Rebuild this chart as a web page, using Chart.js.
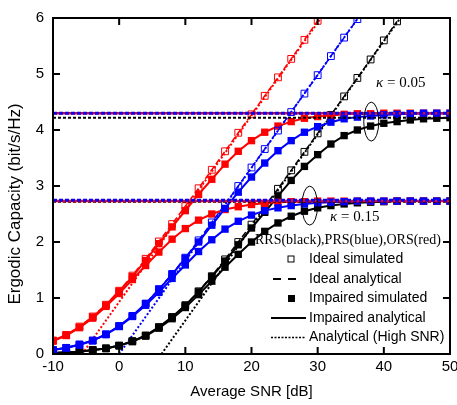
<!DOCTYPE html>
<html>
<head>
<meta charset="utf-8">
<script src="https://cdn.jsdelivr.net/npm/chart.js@4.4.0/dist/chart.umd.min.js"></script>
<style>
  body { margin: 0; background: #fff; }
  canvas { display: block; }
</style>
</head>
<body>
<canvas id="capacityChart" width="457" height="405"></canvas>
<script>
// average SNR grid in dB (simulation points every 2 dB)
const snrDb = [-10, -8, -6, -4, -2, 0, 2, 4, 6, 8, 10, 12, 14, 16, 18, 20, 22, 24, 26, 28,
               30, 32, 34, 36, 38, 40, 42, 44, 46, 48, 50];

// ideal hardware (no impairments), truncated where they leave the plot
const idealOrs = [0.24, 0.34, 0.49, 0.67, 0.88, 1.13, 1.40, 1.70, 2.01, 2.32, 2.64, 2.96, 3.29,
                  3.62, 3.95, 4.28, 4.61, 4.94, 5.27, 5.61, 5.95];
const idealPrs = [0.07, 0.11, 0.17, 0.24, 0.35, 0.50, 0.68, 0.90, 1.16, 1.43, 1.72, 2.03, 2.35,
                  2.67, 3.00, 3.33, 3.66, 3.99, 4.32, 4.65, 4.98, 5.32, 5.65, 5.98];
const idealRrs = [0.02, 0.03, 0.04, 0.07, 0.10, 0.15, 0.23, 0.33, 0.48, 0.66, 0.87, 1.12, 1.39,
                  1.69, 2.00, 2.31, 2.63, 2.95, 3.28, 3.61, 3.94, 4.27, 4.60, 4.93, 5.26, 5.60, 5.94];

// impaired hardware, kappa = 0.05
const impOrs05 = [0.24, 0.34, 0.48, 0.66, 0.87, 1.12, 1.38, 1.67, 1.97, 2.27, 2.56, 2.85, 3.12,
                  3.39, 3.62, 3.81, 3.96, 4.07, 4.15, 4.21, 4.24, 4.26, 4.28, 4.29, 4.29, 4.30,
                  4.30, 4.30, 4.30, 4.30, 4.30];
const impPrs05 = [0.07, 0.11, 0.17, 0.24, 0.35, 0.50, 0.68, 0.90, 1.15, 1.42, 1.71, 2.00, 2.30,
                  2.60, 2.89, 3.16, 3.41, 3.63, 3.81, 3.96, 4.06, 4.14, 4.20, 4.23, 4.25, 4.27,
                  4.28, 4.29, 4.30, 4.30, 4.30];
const impRrs05 = [0.02, 0.03, 0.04, 0.07, 0.10, 0.15, 0.23, 0.33, 0.48, 0.66, 0.87, 1.11, 1.38,
                  1.66, 1.95, 2.25, 2.53, 2.82, 3.10, 3.35, 3.56, 3.75, 3.90, 4.00, 4.07, 4.12,
                  4.15, 4.18, 4.20, 4.21, 4.22];

// impaired hardware, kappa = 0.15
const impOrs15 = [0.23, 0.33, 0.47, 0.64, 0.85, 1.08, 1.33, 1.58, 1.82, 2.05, 2.24, 2.39, 2.50,
                  2.58, 2.63, 2.67, 2.69, 2.71, 2.72, 2.72, 2.73, 2.73, 2.73, 2.73, 2.73, 2.73,
                  2.73, 2.73, 2.73, 2.73, 2.73];
const impPrs15 = [0.07, 0.11, 0.16, 0.24, 0.35, 0.49, 0.67, 0.87, 1.10, 1.35, 1.59, 1.83, 2.04,
                  2.23, 2.37, 2.48, 2.56, 2.61, 2.65, 2.68, 2.70, 2.71, 2.72, 2.73, 2.73, 2.73,
                  2.73, 2.73, 2.73, 2.73, 2.73];
const impRrs15 = [0.02, 0.03, 0.04, 0.07, 0.10, 0.15, 0.22, 0.32, 0.46, 0.63, 0.83, 1.06, 1.30,
                  1.55, 1.78, 2.00, 2.19, 2.34, 2.46, 2.55, 2.61, 2.65, 2.68, 2.70, 2.71, 2.72,
                  2.73, 2.73, 2.73, 2.73, 2.73];

// high-SNR approximations: slope lines [snr at 0, snr at 6] and ceilings
const slopeOrs = [-5.6, 30.5];
const slopePrs = [0.0, 36.1];
const slopeRrs = [6.4, 42.5];
const ceil05 = { ors: 4.30, prs: 4.30, rrs: 4.22 };
const ceil15 = { ors: 2.73, prs: 2.745, rrs: 2.72 };

const xTicks = [-10, 0, 10, 20, 30, 40, 50];
const yTicks = [0, 1, 2, 3, 4, 5, 6];

const RED = '#ff0000', BLUE = '#0000ff', BLACK = '#000000';
const SANS = '"Liberation Sans", Arial, sans-serif';
const SERIF = '"Liberation Serif", "Times New Roman", serif';

function pts(vals) {
    return vals.map((v, i) => ({ x: snrDb[i], y: v }));
}

function idealSet(vals, color) {
    return {
        data: pts(vals), showLine: true, borderColor: color, borderWidth: 1.5,
        borderDash: [6, 3], pointStyle: 'rect', pointRadius: 4.8, pointBorderWidth: 1,
        pointBorderColor: color, pointBackgroundColor: 'rgba(255,255,255,0)'
    };
}

function impairedSet(vals, color) {
    return {
        data: pts(vals), showLine: true, borderColor: color, borderWidth: 2,
        pointStyle: 'rect', pointRadius: 5.2, pointBorderWidth: 0,
        pointBackgroundColor: color
    };
}

function slopeSet(ends, color) {
    return {
        data: [{ x: ends[0], y: 0 }, { x: ends[1], y: 6 }], showLine: true,
        borderColor: color, borderWidth: 2, borderDash: [2, 2], pointRadius: 0
    };
}

function ceilSet(level, color, width, dash) {
    return {
        data: [{ x: -10, y: level }, { x: 50, y: level }], showLine: true,
        borderColor: color, borderWidth: width, borderDash: dash, pointRadius: 0
    };
}

// first dataset is drawn on top
const datasets = [
    ceilSet(ceil05.prs, BLUE, 3, [4, 2]),
    ceilSet(ceil15.prs, BLUE, 3, [4, 2]),
    ceilSet(ceil05.ors, RED, 2.5, []),
    ceilSet(ceil15.ors, RED, 2.5, []),
    ceilSet(ceil05.rrs, BLACK, 2, [3, 2]),
    ceilSet(ceil15.rrs, BLACK, 2, [3, 2]),
    impairedSet(impPrs05, BLUE),
    impairedSet(impPrs15, BLUE),
    idealSet(idealPrs, BLUE),
    impairedSet(impOrs05, RED),
    impairedSet(impOrs15, RED),
    idealSet(idealOrs, RED),
    impairedSet(impRrs05, BLACK),
    impairedSet(impRrs15, BLACK),
    idealSet(idealRrs, BLACK),
    slopeSet(slopePrs, BLUE),
    slopeSet(slopeOrs, RED),
    slopeSet(slopeRrs, BLACK)
];

// frame, inward ticks, y title, kappa notes and the legend block
const decorations = {
    id: 'decorations',
    afterDatasetsDraw(chart) {
        const ctx = chart.ctx;
        const a = chart.chartArea;
        const xs = chart.scales.x, ys = chart.scales.y;
        ctx.save();

        ctx.strokeStyle = '#000';
        ctx.lineWidth = 2;
        ctx.strokeRect(a.left, a.top, a.right - a.left, a.bottom - a.top);

        const tl = 7;
        ctx.beginPath();
        xTicks.slice(1, -1).forEach(v => {
            const px = xs.getPixelForValue(v);
            ctx.moveTo(px, a.bottom); ctx.lineTo(px, a.bottom - tl);
            ctx.moveTo(px, a.top); ctx.lineTo(px, a.top + tl);
        });
        yTicks.slice(1, -1).forEach(v => {
            const py = ys.getPixelForValue(v);
            ctx.moveTo(a.left, py); ctx.lineTo(a.left + tl, py);
            ctx.moveTo(a.right, py); ctx.lineTo(a.right - tl, py);
        });
        ctx.stroke();

        // y axis title
        ctx.save();
        ctx.translate(15, 204);
        ctx.rotate(-Math.PI / 2);
        ctx.fillStyle = '#000';
        ctx.font = '17px ' + SANS;
        ctx.textAlign = 'center';
        ctx.textBaseline = 'middle';
        ctx.fillText('Ergodic Capacity (bit/s/Hz)', 0, 0);
        ctx.restore();

        // ellipses around the two impairment groups
        ctx.lineWidth = 1;
        ctx.beginPath();
        ctx.ellipse(xs.getPixelForValue(38.1), ys.getPixelForValue(4.15), 7.5, 19.5, 0, 0, Math.PI * 2);
        ctx.stroke();
        ctx.beginPath();
        ctx.ellipse(xs.getPixelForValue(28.8), ys.getPixelForValue(2.65), 7.8, 19.5, 0, 0, Math.PI * 2);
        ctx.stroke();

        function kappaNote(text, x, y) {
            ctx.textBaseline = 'alphabetic';
            ctx.textAlign = 'left';
            ctx.font = 'italic 15px ' + SERIF;
            ctx.fillText('\u03ba', x, y);
            const w = ctx.measureText('\u03ba').width;
            ctx.font = '15px ' + SERIF;
            ctx.fillText(' = ' + text, x + w, y);
        }
        ctx.fillStyle = '#000';
        kappaNote('0.05', 376, 87);
        kappaNote('0.15', 330, 221);

        // legend
        ctx.font = '14px ' + SERIF;
        ctx.textBaseline = 'middle';
        ctx.fillText('RRS(black),PRS(blue),ORS(red)', 255, 240);

        const rows = [259, 279, 298.5, 318, 337.5];
        const labels = ['Ideal simulated', 'Ideal analytical', 'Impaired simulated',
                        'Impaired analytical', 'Analytical (High SNR)'];
        ctx.font = '14px ' + SANS;
        labels.forEach((t, i) => ctx.fillText(t, 309, rows[i]));

        ctx.lineWidth = 1;
        ctx.strokeRect(288, rows[0] - 3, 6, 6);
        ctx.fillRect(288, rows[2] - 3.5, 7, 7);

        ctx.lineWidth = 2;
        ctx.beginPath();
        ctx.moveTo(273, rows[1]); ctx.lineTo(281, rows[1]);
        ctx.moveTo(288, rows[1]); ctx.lineTo(296, rows[1]);
        ctx.moveTo(271, rows[3]); ctx.lineTo(306, rows[3]);
        ctx.stroke();

        ctx.lineWidth = 1.5;
        ctx.setLineDash([2, 1.5]);
        ctx.beginPath();
        ctx.moveTo(271, rows[4]); ctx.lineTo(306, rows[4]);
        ctx.stroke();
        ctx.restore();
    }
};

new Chart(document.getElementById('capacityChart'), {
    type: 'scatter',
    data: { datasets: datasets },
    options: {
        responsive: false,
        animation: false,
        events: [],
        layout: { padding: { top: 10, right: 7, left: 0, bottom: 0 } },
        plugins: { legend: { display: false }, tooltip: { enabled: false } },
        scales: {
            x: {
                type: 'linear', min: -10, max: 50,
                afterFit: s => { s.height = 51; s.paddingLeft = 0; s.paddingRight = 0; },
                afterBuildTicks: s => { s.ticks = xTicks.map(v => ({ value: v })); },
                grid: { display: false, drawTicks: false },
                border: { display: false },
                ticks: { color: '#000', font: { family: SANS, size: 15 }, padding: 4, maxRotation: 0 },
                title: { display: true, text: 'Average SNR [dB]', color: '#000',
                         font: { family: SANS, size: 15 }, padding: { top: 0, bottom: 4 } }
            },
            y: {
                type: 'linear', min: 0, max: 6,
                afterFit: s => { s.width = 53; },
                afterBuildTicks: s => { s.ticks = yTicks.map(v => ({ value: v })); },
                grid: { display: false, drawTicks: false },
                border: { display: false },
                ticks: { color: '#000', font: { family: SANS, size: 15 }, padding: 9 }
            }
        }
    },
    plugins: [decorations]
});
</script>
</body>
</html>
